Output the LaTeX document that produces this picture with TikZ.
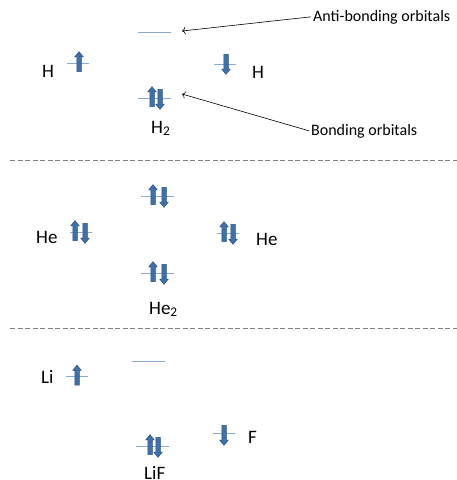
\documentclass[tikz,border=0pt]{standalone}
\usepackage{fontspec}
\setmainfont{Carlito}
\usetikzlibrary{shapes.arrows, arrows.meta}
\definecolor{lvlblue}{HTML}{4A7EBB}
\definecolor{spinblue}{HTML}{4170A8}
\definecolor{spinedge}{HTML}{2C5485}
\tikzset{
  level/.style={draw=lvlblue, line width=0.9pt, inner sep=0pt, minimum height=0pt, minimum width=#1},
  spin/.style={single arrow, fill=spinblue, draw=spinedge, line width=0.5pt, inner sep=2pt,
    minimum height=20pt, single arrow head extend=2pt, single arrow tip angle=78},
  spinup/.style={spin, shape border rotate=90},
  spindown/.style={spin, shape border rotate=270},
  atom/.style={font=\fontsize{19}{21}\selectfont, inner sep=0pt, anchor=base west},
  note/.style={font=\fontsize{16}{18}\selectfont, inner sep=2pt, anchor=base west},
  sep/.style={draw=gray, line width=0.9pt, dash pattern=on 5pt off 2.5pt},
}

\begin{document}
\begin{tikzpicture}[x=1pt, y=-1pt]
        \useasboundingbox (0,0) rectangle (457,480);

        % H2
        \node[level=33pt] (ab) at (154.5,32) {};
        \node[level=33pt] (b) at (154.5,98) {};
        \node[level=22pt] (hl) at (78,63) {};
        \node[level=22pt] (hr) at (225,64) {};
        \node[spinup] (s1) at (79,63) {};
        \node[spindown] (s2) at (226,63) {};
        \node[spinup] (s3) at (152,98) {};
        \node[spindown] (s4) at (160,98) {};
        \node[atom] (H1) at (42,77) {H};
        \node[atom] (H2) at (252,78) {H};
        \node[atom] (Hm) at (151,133) {H\textsubscript{2}};

        \node[note] (anti) at (311,21) {Anti-bonding orbitals};
        \node[note] (bond) at (309,135) {Bonding orbitals};
        \coordinate (abtip) at (182,31);
        \coordinate (btip) at (182,94);
        \draw [-{To[scale=1.2]}, line width=0.6pt] (anti.west) -- (abtip);
        \draw [-{To[scale=1.2]}, line width=0.6pt] (bond.west) -- (btip);

        \draw[sep] (10,160) -- (457,160);

        % He2
        \node[level=33pt] (he2a) at (157.5,196) {};
        \node[level=33pt] (he2b) at (157.5,273) {};
        \node[level=22pt] (hel) at (81,232) {};
        \node[level=22pt] (her) at (228,233) {};
        \node[spinup] (s5) at (153,196) {};
        \node[spindown] (s6) at (164,196) {};
        \node[spinup] (s7) at (75,232) {};
        \node[spindown] (s8) at (85,232) {};
        \node[spinup] (s9) at (224,233) {};
        \node[spindown] (s10) at (233,233) {};
        \node[spinup] (s11) at (153,273) {};
        \node[spindown] (s12) at (164,273) {};
        \node[atom] (He1) at (36,243) {He};
        \node[atom] (He2) at (256,245) {He};
        \node[atom] (Hem) at (149,314) {He\textsubscript{2}};

        \draw[sep] (10,328) -- (457,328);

        % LiF
        \node[level=33pt] (lfa) at (148.5,361) {};
        \node[level=33pt] (lfb) at (152.5,446) {};
        \node[level=22pt] (li) at (77,376) {};
        \node[level=22pt] (f) at (224,433) {};
        \node[spinup] (s13) at (77,376.5) {};
        \node[spindown] (s14) at (224,434) {};
        \node[spinup] (s15) at (150,446) {};
        \node[spindown] (s16) at (158,446) {};
        \node[atom] (Li) at (41,383) {Li};
        \node[atom] (F) at (248,443) {F};
        \node[atom] (LiF) at (144,479) {LiF};
\end{tikzpicture}
\end{document}
